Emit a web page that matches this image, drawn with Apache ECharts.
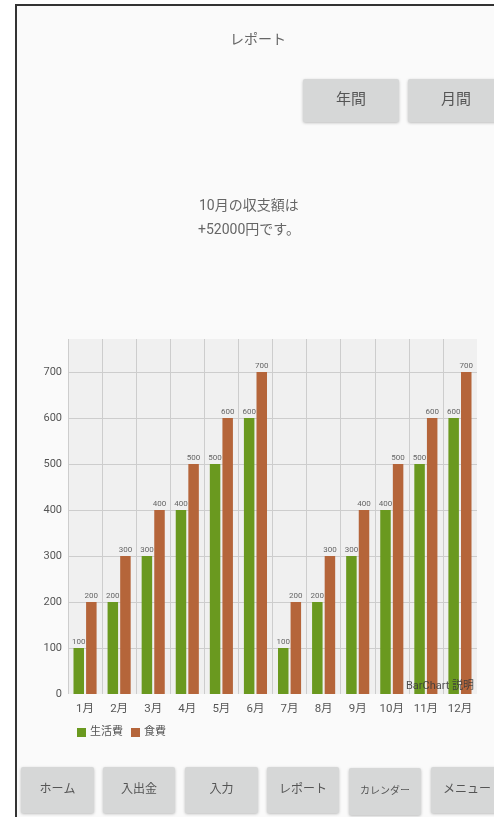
<!DOCTYPE html>
<html>
<head>
<meta charset="utf-8">
<script src="https://cdn.jsdelivr.net/npm/echarts@6/dist/echarts.min.js"></script>
<style>
html,body{margin:0;padding:0;background:#ffffff;}
#chart{width:494px;height:817px;}
</style>
</head>
<body>
<div id="chart"></div>
<script>
var categories = ['1月','2月','3月','4月','5月','6月','7月','8月','9月','10月','11月','12月'];
var livingCost = [100,200,300,400,500,600,100,200,300,400,500,600];
var foodCost = [200,300,400,500,600,700,200,300,400,500,600,700];
var seriesNames = ['生活費','食費'];
var yTicks = [0,100,200,300,400,500,600,700];
var pageTitle = 'レポート';
var topButtons = ['年間','月間'];
var summaryLines = ['10月の収支額は','+52000円です。'];
var navButtons = ['ホーム','入出金','入力','レポート','カレンダー','メニュー'];
var description = 'BarChart 説明';

var FONT = "Roboto, 'Noto Sans CJK JP', sans-serif";
var chart = echarts.init(document.getElementById('chart'));

function button(x, y, w, h, label, fs) {
  return {
    type: 'group',
    children: [
      { type: 'rect', shape: { x: x, y: y, width: w, height: h, r: 2 },
        style: { fill: '#d6d7d7', shadowBlur: 3, shadowOffsetY: 1, shadowColor: 'rgba(0,0,0,0.25)' } },
      { type: 'text', x: x + w / 2, y: y + h / 2,
        style: { text: label, fill: '#555', font: fs + 'px ' + FONT, textAlign: 'center', textVerticalAlign: 'middle' } }
    ]
  };
}

var navBoxes = [[21,767,73,46],[103,767,72,46],[185,767,73,46],[267,767,72,46],[349,768,72,47],[431,767,72,46]];
var graphics = [
  { type: 'rect', z: -10, shape: { x: 16, y: 5, width: 480, height: 820 }, style: { fill: '#fafafa', stroke: '#333', lineWidth: 2 } },
  { type: 'text', x: 258, y: 40, style: { text: pageTitle, fill: '#666', font: '14px ' + FONT, textAlign: 'center', textVerticalAlign: 'middle' } },
  button(303, 79, 96, 43, topButtons[0], 15),
  button(408, 79, 96, 43, topButtons[1], 15),
  { type: 'text', x: 199, y: 206, style: { text: summaryLines[0], fill: '#666', font: '14px ' + FONT, textAlign: 'left', textVerticalAlign: 'middle' } },
  { type: 'text', x: 198, y: 230, style: { text: summaryLines[1], fill: '#666', font: '14px ' + FONT, textAlign: 'left', textVerticalAlign: 'middle' } },
  { type: 'text', x: 474, y: 686, z: 50, style: { text: description, fill: 'rgba(60,60,60,0.9)', font: '11px ' + FONT, textAlign: 'right', textVerticalAlign: 'middle' } }
];
navButtons.forEach(function (n, i) {
  var b = navBoxes[i];
  graphics.push(button(b[0], b[1], b[2], b[3], n, n === 'カレンダー' ? 10 : 12));
});

chart.setOption({
  backgroundColor: 'transparent',
  animation: false,
  textStyle: { fontFamily: FONT },
  grid: { left: 68, top: 339, width: 409, height: 355, show: true, backgroundColor: '#f0f0f0', borderWidth: 0, containLabel: false },
  legend: {
    left: 72, top: 722, itemWidth: 9, itemHeight: 9, itemGap: 8, icon: 'rect',
    textStyle: { fontSize: 11, color: '#555', fontFamily: FONT, padding: [0, 0, 0, -1] },
    data: seriesNames
  },
  xAxis: {
    type: 'category', data: categories, boundaryGap: true,
    axisLine: { show: false }, axisTick: { show: false },
    axisLabel: { color: '#555', fontSize: 11.5, margin: 9, fontFamily: FONT },
    splitLine: { show: true, showMaxLine: false, lineStyle: { color: '#cdcdcd', width: 1 } }
  },
  yAxis: {
    type: 'value', min: 0, max: 772, interval: 100,
    axisLine: { show: false }, axisTick: { show: false },
    axisLabel: { color: '#555', fontSize: 11, margin: 6, showMaxLabel: false, fontFamily: FONT },
    splitLine: { show: true, showMaxLine: false, showMinLine: false, lineStyle: { color: '#cdcdcd', width: 1 } }
  },
  series: [
    { name: seriesNames[0], type: 'bar', data: livingCost, barWidth: 10.5, barGap: '20%',
      itemStyle: { color: '#6a991f' },
      label: { show: true, position: 'top', distance: 2, fontSize: 8, color: '#666', fontFamily: FONT } },
    { name: seriesNames[1], type: 'bar', data: foodCost, barWidth: 10.5, barGap: '20%',
      itemStyle: { color: '#b5653a' },
      label: { show: true, position: 'top', distance: 2, fontSize: 8, color: '#666', fontFamily: FONT } }
  ],
  graphic: graphics
});
</script>
</body>
</html>
